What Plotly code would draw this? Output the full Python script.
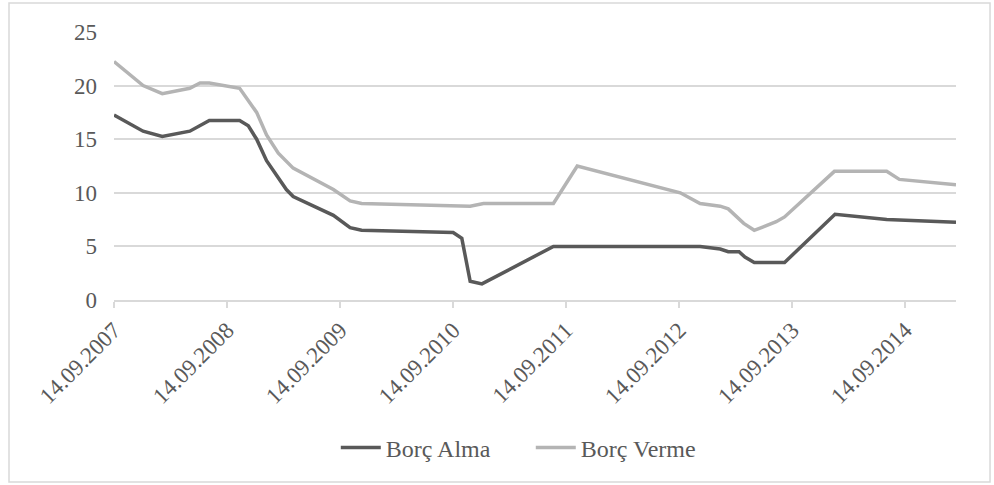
import plotly.graph_objects as go

# Overnight borrowing (Borç Alma) rate observations
alma_dates = ["2007-09-14", "2007-12-17", "2008-02-17", "2008-05-16", "2008-07-18",
              "2008-10-24", "2008-11-21", "2008-12-18", "2009-01-19", "2009-02-26",
              "2009-03-24", "2009-04-15", "2009-08-23", "2009-10-16", "2009-11-22",
              "2010-09-14", "2010-10-12", "2010-11-08", "2010-12-16", "2011-08-04",
              "2012-11-20", "2013-01-24", "2013-02-19", "2013-03-26", "2013-04-14",
              "2013-05-14", "2013-08-20", "2014-01-30", "2014-07-16", "2015-02-25"]
alma_values = [17.25, 15.75, 15.25, 15.75, 16.75,
               16.75, 16.25, 15.0, 13.0, 11.4,
               10.3, 9.65, 7.9, 6.75, 6.5,
               6.3, 5.75, 1.75, 1.5, 5.0,
               5.0, 4.75, 4.5, 4.5, 4.0,
               3.5, 3.5, 8.0, 7.5, 7.25]

# Overnight lending (Borç Verme) rate observations
verme_dates = ["2007-09-14", "2007-12-17", "2008-02-17", "2008-05-16", "2008-06-18",
               "2008-07-18", "2008-10-24", "2008-12-18", "2009-01-19", "2009-02-26",
               "2009-04-15", "2009-08-23", "2009-10-16", "2009-11-22", "2010-11-08",
               "2010-12-21", "2011-08-04", "2011-10-20", "2012-09-17", "2012-11-20",
               "2013-01-24", "2013-02-19", "2013-04-10", "2013-05-14", "2013-07-24",
               "2013-08-20", "2014-01-28", "2014-07-16", "2014-08-26", "2015-02-25"]
verme_values = [22.25, 20.0, 19.25, 19.75, 20.25,
                20.25, 19.75, 17.5, 15.4, 13.7,
                12.3, 10.3, 9.25, 9.0, 8.75,
                9.0, 9.0, 12.5, 10.0, 9.0,
                8.75, 8.5, 7.15, 6.5, 7.3,
                7.75, 12.0, 12.0, 11.25, 10.75]

tick_dates = ["2007-09-14", "2008-09-14", "2009-09-14", "2010-09-14",
              "2011-09-14", "2012-09-14", "2013-09-14", "2014-09-14"]
tick_labels = ["14.09.2007", "14.09.2008", "14.09.2009", "14.09.2010",
               "14.09.2011", "14.09.2012", "14.09.2013", "14.09.2014"]
y_ticks = [0, 5, 10, 15, 20, 25]

TEXT = "#595959"
GRID = "#d9d9d9"
FONT = "Liberation Serif"

fig = go.Figure()
fig.add_trace(go.Scatter(x=alma_dates, y=alma_values, mode="lines", name="Borç Alma",
                         line=dict(color="#595959", width=3.5)))
fig.add_trace(go.Scatter(x=verme_dates, y=verme_values, mode="lines", name="Borç Verme",
                         line=dict(color="#b4b4b4", width=3.5)))

fig.update_layout(
    width=994, height=485,
    margin=dict(l=114, r=38, t=32, b=185),
    paper_bgcolor="white", plot_bgcolor="white",
    font=dict(family=FONT, size=23, color=TEXT),
    showlegend=True,
    legend=dict(orientation="h", x=0.495, y=-0.552, xanchor="center", yanchor="middle",
                font=dict(family=FONT, size=24, color=TEXT), itemwidth=40,
                entrywidth=140, bgcolor="rgba(0,0,0,0)"),
    xaxis=dict(type="date", range=["2007-09-14", "2015-02-25"],
               tickvals=tick_dates, ticktext=tick_labels, tickangle=-45,
               showgrid=False, showline=True, linecolor=GRID, linewidth=1.5,
               ticks="outside", ticklen=6, tickcolor=GRID, tickwidth=1.5,
               tickfont=dict(family=FONT, size=23, color=TEXT), zeroline=False),
    yaxis=dict(range=[0, 25], tickvals=y_ticks, showgrid=True, gridcolor=GRID,
               gridwidth=1.5, zeroline=False, showline=False,
               ticklabelstandoff=16,
               tickfont=dict(family=FONT, size=23, color=TEXT)),
    shapes=[dict(type="rect", xref="paper", yref="paper",
                 x0=-0.1247, x1=1.0404, y0=-0.679, y1=1.1082,
                 line=dict(color=GRID, width=1.5), layer="below")],
)

fig.write_html("out.html")
